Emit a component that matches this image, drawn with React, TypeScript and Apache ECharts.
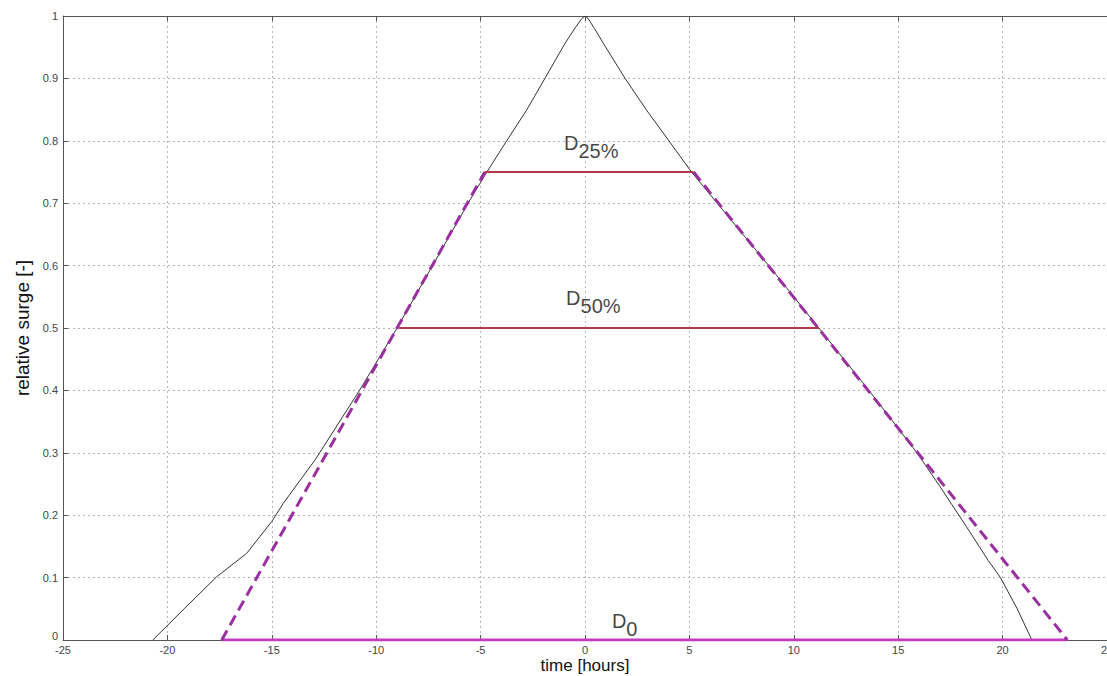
import React, { useEffect, useRef } from "react";
import * as echarts from "echarts";

// Observed surge curve (time in hours, relative surge)
const surgeX = [-20.7, -19.2, -17.65, -16.2, -15.0, -14.45, -12.9, -10.8, -9.0, -7.3, -5.6, -4.7, -3.75, -2.8, -1.92, -0.96, -0.45, -0.15, 0, 0.15, 0.45, 0.92, 1.92, 2.95, 4.02, 5.1, 8.8, 11.2, 13.6, 15.9, 17.0, 18.3, 19.3, 19.9, 20.7, 21.4];
const surgeY = [0, 0.05, 0.101, 0.139, 0.19, 0.219, 0.29, 0.4, 0.5, 0.6, 0.7, 0.75, 0.8, 0.849, 0.9, 0.956, 0.982, 0.996, 1, 0.996, 0.98, 0.954, 0.9, 0.849, 0.8, 0.75, 0.6, 0.5, 0.4, 0.3, 0.246, 0.18, 0.128, 0.1, 0.05, 0];

// Trapezoid schematisation (dashed flanks)
const riseX = [-17.4, -4.8];
const riseY = [0, 0.75];
const fallX = [5.2, 23.1];
const fallY = [0.75, 0];

// Durations
const d25X = [-4.8, 5.2];
const d25Y = 0.75;
const d50X = [-8.9, 11.2];
const d50Y = 0.5;
const d0X = [-17.4, 23.1];
const d0Y = 0;

// Labels: [x, y, sub]
const labelPos: [number, number, string][] = [
  [0.3, 0.79, "25%"],
  [0.4, 0.541, "50%"],
  [1.9, 0.024, "0"],
];

const xTicks = { min: -25, max: 25, interval: 5 };
const yTicks = { min: 0, max: 1, interval: 0.1 };

const FONT = "'Liberation Sans', Arial, sans-serif";

export default function App() {
  const ref = useRef<HTMLDivElement>(null);
  useEffect(() => {
    if (!ref.current) return;
    const chart = echarts.init(ref.current, undefined, { renderer: "svg" });
    const axisLine = { show: true, onZero: false, lineStyle: { color: "#555", width: 1 } };
    const tick = { show: true, inside: true, length: 5, lineStyle: { color: "#555" } };
    const split = { show: true, lineStyle: { color: "#b5b5b5", type: [2, 3] as any, width: 1 } };
    const flank = (xs: number[], ys: number[]) => ({
      type: "line",
      data: xs.map((x, i) => [x, ys[i]]),
      showSymbol: false,
      lineStyle: { color: "#9a2fa0", width: 3, type: [11, 6] as any },
      z: 5,
    });
    const flat = (xs: number[], y: number, color: string, width: number, z: number) => ({
      type: "line",
      data: xs.map((x) => [x, y]),
      showSymbol: false,
      lineStyle: { color, width },
      z,
    });
    chart.setOption({
      animation: false,
      backgroundColor: "#fff",
      grid: { left: 63, right: 0, top: 16, bottom: 36, containLabel: false, outerBoundsMode: "none" },
      xAxis: [
        {
          type: "value",
          ...xTicks,
          name: "time [hours]",
          nameLocation: "middle",
          nameGap: 16,
          nameMoveOverlap: false,
          nameTextStyle: { fontFamily: FONT, fontSize: 17, color: "#111", lineHeight: 18 },
          axisLine,
          axisTick: tick,
          splitLine: split,
          axisLabel: { fontFamily: FONT, fontSize: 11, color: "#444", margin: 4, lineHeight: 11 },
        },
        {
          type: "value",
          ...xTicks,
          position: "top",
          axisLine,
          axisTick: tick,
          splitLine: { show: false },
          axisLabel: { show: false },
        },
      ],
      yAxis: [
        {
          type: "value",
          ...yTicks,
          name: "relative surge [-]",
          nameLocation: "middle",
          nameGap: 31,
          nameMoveOverlap: false,
          nameTextStyle: { fontFamily: FONT, fontSize: 19, color: "#111" },
          axisLine,
          axisTick: tick,
          splitLine: split,
          axisLabel: {
            fontFamily: FONT,
            fontSize: 11,
            color: "#444",
            margin: 5,
            formatter: (v: number) => (v === 0 ? "{z|0}" : String(v)),
            rich: { z: { fontFamily: FONT, fontSize: 11, color: "#444", padding: [0, 0, 9, 0] } },
          },
        },
      ],
      series: [
        {
          type: "line",
          data: surgeX.map((x, i) => [x, surgeY[i]]),
          showSymbol: false,
          smooth: false,
          lineStyle: { color: "#333", width: 1 },
          z: 2,
        },
        flat(d25X, d25Y, "#b23a48", 2, 3),
        flat(d50X, d50Y, "#b23a48", 2, 3),
        flat(d0X, d0Y, "#c03cc0", 3, 4),
        flank(riseX, riseY),
        flank(fallX, fallY),
        {
          type: "scatter",
          symbolSize: 0,
          data: labelPos.map((p) => ({ value: [p[0], p[1]], sub: p[2] })),
          label: {
            show: true,
            position: "inside",
            formatter: (p: any) => `{a|D}{b|${p.data.sub}}`,
            rich: {
              a: { fontFamily: FONT, fontSize: 20, color: "#111", padding: [0, 0, 8, 0] },
              b: { fontFamily: FONT, fontSize: 20, color: "#111", padding: [8, 0, 0, 0] },
            },
          },
          z: 6,
        },
      ],
    });
    return () => chart.dispose();
  }, []);
  return (
    <div
      ref={ref}
      style={{ position: "fixed", left: 0, top: 0, width: 1107, height: 676, background: "#fff" }}
    />
  );
}
